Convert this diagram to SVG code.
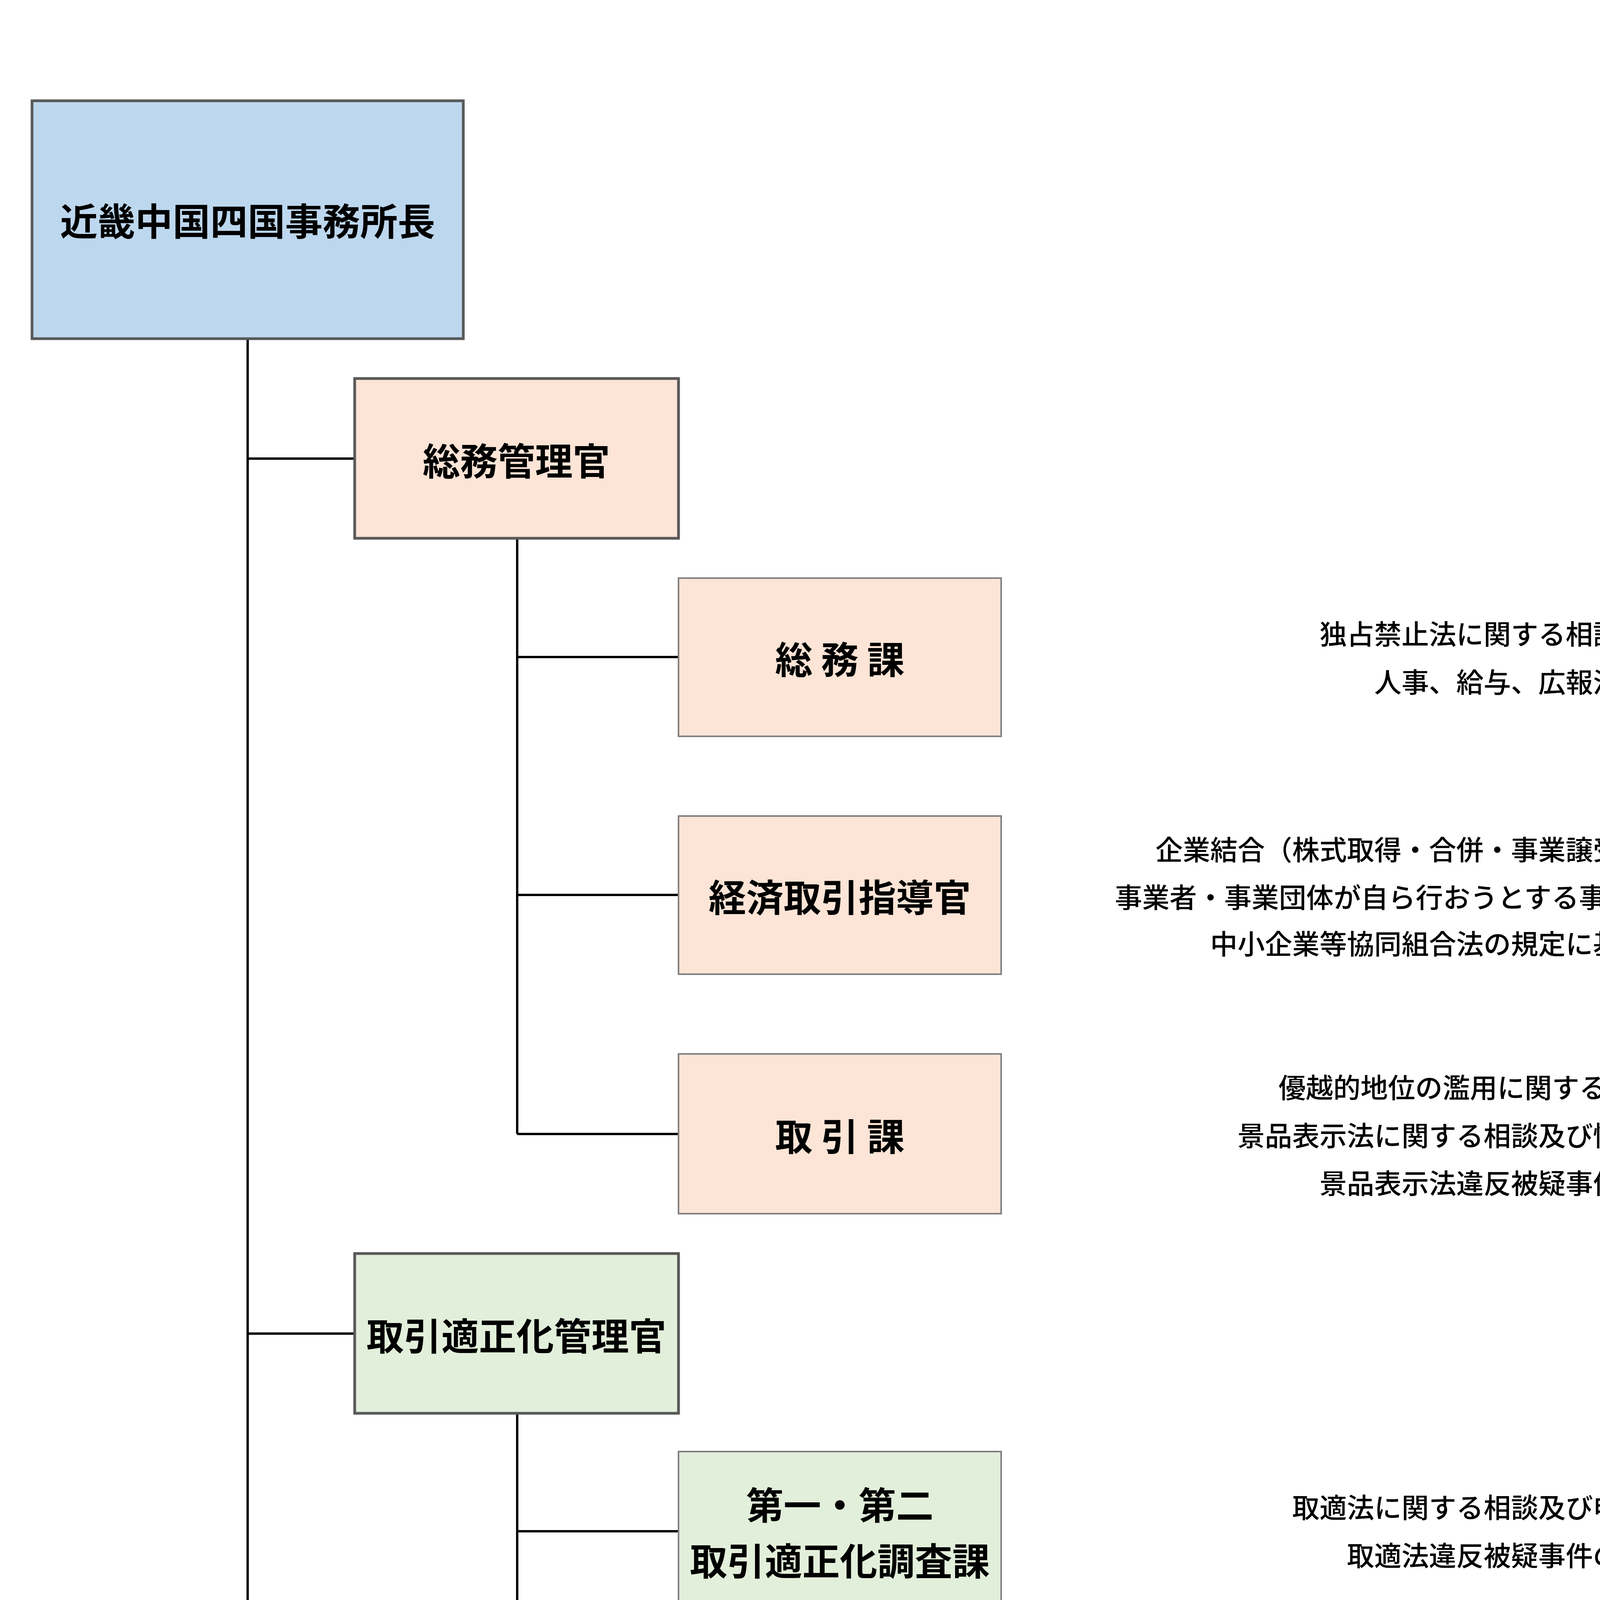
<svg xmlns="http://www.w3.org/2000/svg" width="5000" height="6389" viewBox="0 0 5000 6389">
<style>
text{font-family:"Noto Sans CJK JP","Noto Sans",sans-serif;font-weight:bold;text-anchor:middle;dominant-baseline:central;fill:#000}
.n{font-size:96px}
.d{font-size:70px;font-weight:500}
.b2{stroke:#595959;stroke-width:7}
.b3{stroke:#7f7f7f;stroke-width:4}
.blue{fill:#bdd7ee}.peach{fill:#fce4d6}.green{fill:#e2efda}
.c{stroke:#000;stroke-width:6;fill:none}
</style>
<rect width="5000" height="6389" fill="#fff"/>
<g id="connectors">
<path class="c" d="M634 867V5041M634 1174H908M634 3414H908M634 5041H908"/>
<path class="c" d="M1324 1378V2903M1324 1682H1737M1324 2291H1737M1324 2903H1737"/>
<path class="c" d="M1324 3618V4530M1324 3920H1737M1324 4530H1737"/>
<path class="c" d="M1324 5245V6158M1324 5548H1737M1324 6158H1737"/>
</g>
<g id="head"><rect class="blue b2" x="82" y="258" width="1104" height="609"/><text class="n" x="634" y="560">近畿中国四国事務所長</text></g>
<g id="somukanri"><rect class="peach b2" x="908" y="969" width="829" height="409"/><text class="n" x="1322" y="1174">総務管理官</text></g>
<g id="torihikikanri"><rect class="green b2" x="908" y="3209" width="829" height="409"/><text class="n" x="1322" y="3414">取引適正化管理官</text></g>
<g id="shinsa"><rect class="blue b2" x="908" y="4836" width="829" height="409"/><text class="n" x="1322" y="5041">審査統括官</text></g>
<g id="somuka"><rect class="peach b3" x="1737" y="1480" width="826" height="405"/><text class="n" x="2150" y="1682">総 務 課</text></g>
<g id="keizai"><rect class="peach b3" x="1737" y="2089" width="826" height="405"/><text class="n" x="2150" y="2291">経済取引指導官</text></g>
<g id="torihikika"><rect class="peach b3" x="1737" y="2698" width="826" height="409"/><text class="n" x="2150" y="2903">取 引 課</text></g>
<g id="tekisei"><rect class="green b3" x="1737" y="3716" width="826" height="409"/><text class="n" x="2150" y="3847">第一・第二</text><text class="n" x="2150" y="3990">取引適正化調査課</text></g>
<g id="freelance"><rect class="green b3" x="1737" y="4325" width="826" height="409"/><text class="n" x="2150" y="4530">フリーランス課</text></g>
<g id="shinsa1"><rect class="blue b3" x="1737" y="5343" width="826" height="409"/><text class="n" x="2150" y="5548">第一審査課</text></g>
<g id="shinsa2"><rect class="blue b3" x="1737" y="5956" width="826" height="405"/><text class="n" x="2150" y="6158">第二～第四審査課</text></g>
<g id="descriptions">
<text class="d" x="3868" y="1619">独占禁止法に関する相談の受付</text>
<text class="d" x="3868" y="1742">人事、給与、広報活動</text>
<text class="d" x="3868" y="2171">企業結合（株式取得・合併・事業譲受け等）の届出の受付</text>
<text class="d" x="3868" y="2293">事業者・事業団体が自ら行おうとする事業活動の事前相談の受付</text>
<text class="d" x="3868" y="2412">中小企業等協同組合法の規定に基づく届出の受付</text>
<text class="d" x="3868" y="2780">優越的地位の濫用に関する相談の受付</text>
<text class="d" x="3868" y="2903">景品表示法に関する相談及び情報提供の受付</text>
<text class="d" x="3868" y="3025">景品表示法違反被疑事件の調査</text>
<text class="d" x="3868" y="3855">取適法に関する相談及び申告の受付</text>
<text class="d" x="3868" y="3978">取適法違反被疑事件の調査</text>
<text class="d" x="3868" y="4468">フリーランス法に関する相談及び申告の受付</text>
<text class="d" x="3868" y="4591">フリーランス法違反被疑事件の調査</text>
<text class="d" x="3868" y="5486">独占禁止法違反被疑事件に関する申告の受付</text>
<text class="d" x="3868" y="5609">独占禁止法違反被疑事件の処理</text>
<text class="d" x="3868" y="6157">独占禁止法違反被疑事件の処理</text>
</g>
</svg>
